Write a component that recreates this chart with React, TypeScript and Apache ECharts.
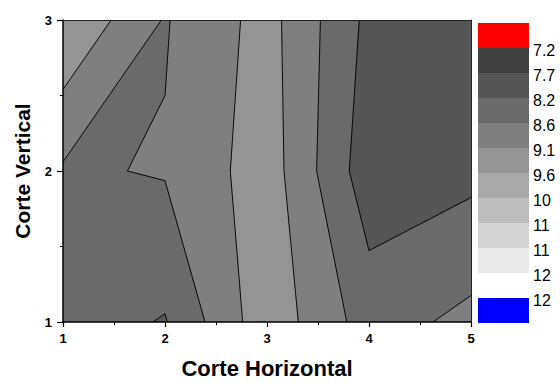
import React, { useEffect, useRef } from "react";
import * as echarts from "echarts";

// Grid coordinates
const X_VALUES = [1, 2, 3, 4, 5];
const Y_VALUES = [1, 2, 3];
// Measured values per row (Corte Vertical = 1, 2, 3)
const Z_ROW_1 = [8.38, 8.13, 9.43, 8.42, 8.77];
const Z_ROW_2 = [8.58, 8.675, 9.37, 7.87, 8.03];
const Z_ROW_3 = [9.58, 8.605, 9.3, 8.04, 7.85];
const Z_ROWS = [Z_ROW_1, Z_ROW_2, Z_ROW_3];

// Contour levels and band fills
const LEVELS = [7.2, 7.68, 8.16, 8.64, 9.12, 9.6, 10.08, 10.56, 11.04, 11.52, 12.0];
const BAND_COLORS = [
  "#404040", "#555555", "#6a6a6a", "#7f7f7f", "#949494",
  "#a9a9a9", "#bebebe", "#d4d4d4", "#e9e9e9", "#ffffff",
];
const ABOVE_COLOR = "#ff0000";
const BELOW_COLOR = "#0000ff";

const X_TITLE = "Corte Horizontal";
const Y_TITLE = "Corte Vertical";
const FONT = "'Liberation Sans', Arial, Helvetica, sans-serif";

type P = { x: number; y: number; z: number };

function lerp(a: P, b: P, L: number): P {
  const t = (L - a.z) / (b.z - a.z);
  return { x: a.x + t * (b.x - a.x), y: a.y + t * (b.y - a.y), z: L };
}

function clipBelow(poly: P[], L: number): P[] {
  const out: P[] = [];
  for (let k = 0; k < poly.length; k++) {
    const a = poly[k];
    const b = poly[(k + 1) % poly.length];
    const ain = a.z <= L;
    const bin = b.z <= L;
    if (ain) out.push(a);
    if (ain !== bin) out.push(lerp(a, b, L));
  }
  return out;
}

function contourSegments(poly: P[], L: number): [P, P][] {
  const cross: { p: P; exit: boolean }[] = [];
  for (let k = 0; k < poly.length; k++) {
    const a = poly[k];
    const b = poly[(k + 1) % poly.length];
    const ain = a.z <= L;
    const bin = b.z <= L;
    if (ain && !bin) cross.push({ p: lerp(a, b, L), exit: true });
    if (!ain && bin) cross.push({ p: lerp(a, b, L), exit: false });
  }
  const segs: [P, P][] = [];
  const n = cross.length;
  for (let k = 0; k < n; k++) {
    if (!cross[k].exit) continue;
    for (let m = 1; m < n; m++) {
      const c = cross[(k + m) % n];
      if (!c.exit) {
        segs.push([cross[k].p, c.p]);
        break;
      }
    }
  }
  return segs;
}

function cellCorners(i: number, j: number): P[] {
  return [
    { x: X_VALUES[i], y: Y_VALUES[j], z: Z_ROWS[j][i] },
    { x: X_VALUES[i + 1], y: Y_VALUES[j], z: Z_ROWS[j][i + 1] },
    { x: X_VALUES[i + 1], y: Y_VALUES[j + 1], z: Z_ROWS[j + 1][i + 1] },
    { x: X_VALUES[i], y: Y_VALUES[j + 1], z: Z_ROWS[j + 1][i] },
  ];
}

const CELLS: number[][] = [];
for (let j = 0; j < Y_VALUES.length - 1; j++) {
  for (let i = 0; i < X_VALUES.length - 1; i++) CELLS.push([i, j]);
}
// fill items: band indices from highest to lowest (painter's order)
const BAND_ITEMS = BAND_COLORS.map((_, k) => [BAND_COLORS.length - 1 - k]);
const LEVEL_ITEMS = LEVELS.map((_, k) => [k]);

export default function App() {
  const ref = useRef<HTMLDivElement>(null);
  useEffect(() => {
    if (!ref.current) return;
    const chart = echarts.init(ref.current, undefined, { renderer: "svg" });

    const legendTop = 23;
    const legendH = 25;
    const legendX = 478;
    const legendW = 51;
    const legendColors = [ABOVE_COLOR, ...BAND_COLORS, BELOW_COLOR];
    const legendChildren: any[] = [];
    legendColors.forEach((c, k) => {
      legendChildren.push({
        type: "rect",
        shape: { x: legendX, y: legendTop + k * legendH, width: legendW, height: legendH },
        style: { fill: c, stroke: null },
      });
    });
    LEVELS.forEach((v, k) => {
      legendChildren.push({
        type: "text",
        x: legendX + legendW + 4,
        y: legendTop + (k + 1) * legendH + 2,
        style: {
          text: Number(v).toPrecision(2).replace(/\.0$/, ""),
          fontSize: 16,
          fontFamily: FONT,
          fill: "#000",
          verticalAlign: "middle",
          align: "left",
        },
      });
    });

    const axisCommon = {
      type: "value" as const,
      interval: 1,
      z: 10,
      splitLine: { show: false },
      axisLine: { show: true, onZero: false, lineStyle: { color: "#000", width: 1.5 } },
      axisTick: { show: true, inside: false, length: 5, lineStyle: { color: "#000", width: 1.2 } },
      minorTick: { show: true, splitNumber: 2, length: 3, lineStyle: { color: "#000", width: 1 } },
      axisLabel: { color: "#000", fontSize: 13, fontWeight: "bold" as const, fontFamily: FONT },
      nameTextStyle: { color: "#000", fontSize: 21, fontWeight: "bold" as const, fontFamily: FONT },
    };

    chart.setOption({
      animation: false,
      backgroundColor: "#ffffff",
      grid: {
        left: 63,
        right: 89,
        top: 20,
        bottom: 59,
        containLabel: false,
        outerBoundsMode: "none",
      },
      xAxis: [
        {
          ...axisCommon,
          min: X_VALUES[0],
          max: X_VALUES[X_VALUES.length - 1],
          position: "bottom",
          name: X_TITLE,
          nameLocation: "middle",
          nameGap: 35,
          axisLabel: { ...axisCommon.axisLabel, margin: 10 },
          nameTextStyle: { ...axisCommon.nameTextStyle, fontSize: 22 },
        },
        {
          type: "value",
          min: X_VALUES[0],
          max: X_VALUES[X_VALUES.length - 1],
          position: "top",
          z: 10,
          axisLine: { show: true, onZero: false, lineStyle: { color: "#222", width: 1 } },
          axisTick: { show: false },
          axisLabel: { show: false },
          splitLine: { show: false },
        },
      ],
      yAxis: [
        {
          ...axisCommon,
          min: Y_VALUES[0],
          max: Y_VALUES[Y_VALUES.length - 1],
          position: "left",
          name: Y_TITLE,
          nameLocation: "middle",
          nameRotate: 90,
          nameGap: 30,
          axisTick: { ...axisCommon.axisTick, length: 6 },
          axisLabel: { ...axisCommon.axisLabel, margin: 11 },
        },
        {
          type: "value",
          min: Y_VALUES[0],
          max: Y_VALUES[Y_VALUES.length - 1],
          position: "right",
          z: 10,
          axisLine: { show: true, onZero: false, lineStyle: { color: "#222", width: 1 } },
          axisTick: { show: false },
          axisLabel: { show: false },
          splitLine: { show: false },
        },
      ],
      graphic: [{ type: "group", children: legendChildren }],
      series: [
        {
          type: "custom",
          name: "bands",
          coordinateSystem: "cartesian2d",
          xAxisIndex: 0,
          yAxisIndex: 0,
          silent: true,
          clip: true,
          z: 2,
          encode: { x: -1, y: -1 },
          data: BAND_ITEMS,
          renderItem: (_params: any, api: any) => {
            const k = api.value(0);
            const px = (p: P) => api.coord([p.x, p.y]);
            const children: any[] = [];
            CELLS.forEach(([i, j]) => {
              const poly = clipBelow(cellCorners(i, j), LEVELS[k + 1]);
              if (poly.length < 3) return;
              children.push({
                type: "polygon",
                shape: { points: poly.map(px) },
                style: { fill: BAND_COLORS[k], stroke: BAND_COLORS[k], lineWidth: 0.8 },
              });
            });
            return { type: "group", children };
          },
        },
        {
          type: "custom",
          name: "contours",
          coordinateSystem: "cartesian2d",
          xAxisIndex: 0,
          yAxisIndex: 0,
          silent: true,
          clip: true,
          z: 3,
          encode: { x: -1, y: -1 },
          data: LEVEL_ITEMS,
          renderItem: (_params: any, api: any) => {
            const L = LEVELS[api.value(0)];
            const px = (p: P) => api.coord([p.x, p.y]);
            const children: any[] = [];
            CELLS.forEach(([i, j]) => {
              contourSegments(cellCorners(i, j), L).forEach(([a, b]) => {
                const pa = px(a);
                const pb = px(b);
                children.push({
                  type: "line",
                  shape: { x1: pa[0], y1: pa[1], x2: pb[0], y2: pb[1] },
                  style: { stroke: "#000", lineWidth: 0.9 },
                });
              });
            });
            return { type: "group", children };
          },
        },
      ],
    });
    return () => chart.dispose();
  }, []);
  return <div ref={ref} style={{ width: 560, height: 381, position: "absolute", left: 0, top: 0 }} />;
}
